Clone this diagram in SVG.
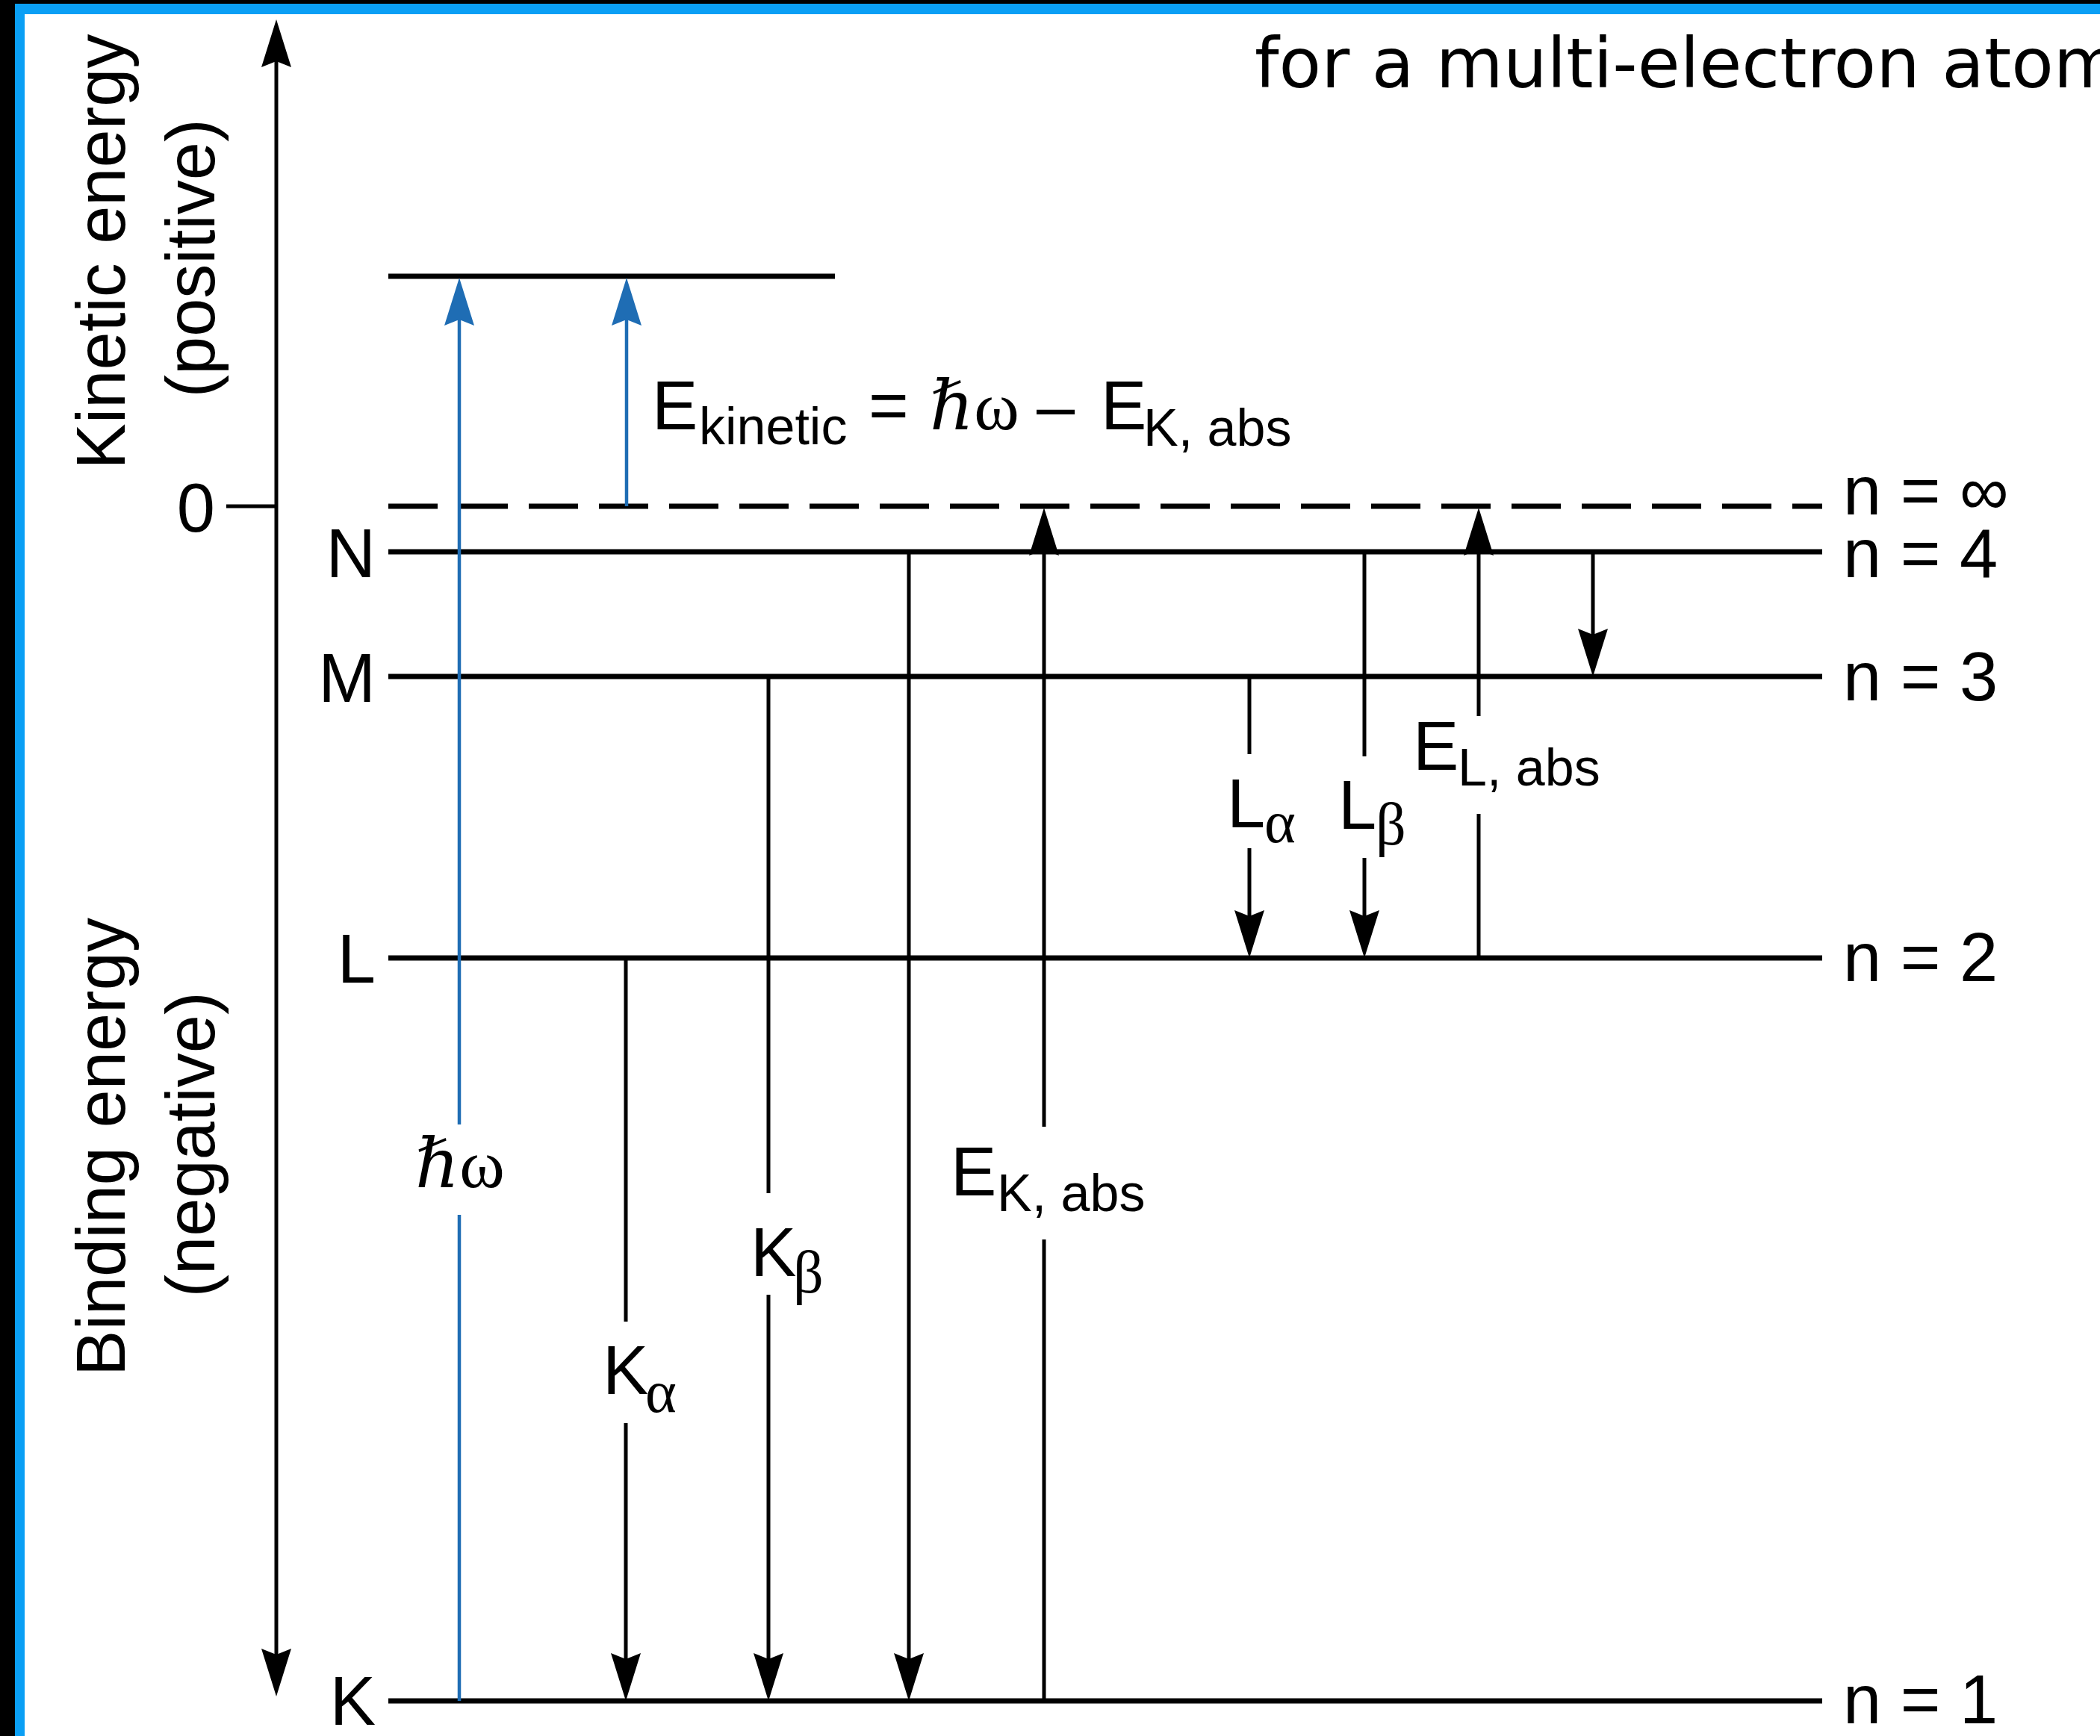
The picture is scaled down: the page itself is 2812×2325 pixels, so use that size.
<svg xmlns="http://www.w3.org/2000/svg" width="2812" height="2325" viewBox="0 0 2812 2325">
<style>
.t{font-family:"Liberation Sans",Arial,sans-serif;font-size:92px;fill:#000}
.sym{font-family:"Liberation Serif","DejaVu Serif",serif;font-size:92px;fill:#000}
.sub{font-size:70px}
.gk{font-family:"Liberation Serif","DejaVu Serif",serif;font-size:80px}
.lvl{stroke:#000;stroke-width:7;fill:none}
.dash{stroke:#000;stroke-width:7;fill:none;stroke-dasharray:66 28}
.v{stroke:#000;stroke-width:5;fill:none}
.vb{stroke:#1f6db4;stroke-width:4.5;fill:none}
.title{font-family:"DejaVu Sans","Liberation Sans",sans-serif;font-size:92px;fill:#000}
</style>
<defs>
<marker id="ah" viewBox="-60 -24 74 48" refX="0" refY="0" markerWidth="74" markerHeight="48" markerUnits="userSpaceOnUse" orient="auto">
<path d="M10,0 L-54,-20 L-46,0 L-54,20 Z" fill="#000"/>
</marker>
<marker id="ahs" viewBox="-60 -24 74 48" refX="0" refY="0" markerWidth="74" markerHeight="48" markerUnits="userSpaceOnUse" orient="auto-start-reverse">
<path d="M10,0 L-54,-20 L-46,0 L-54,20 Z" fill="#000"/>
</marker>
<marker id="ab" viewBox="-60 -24 74 48" refX="0" refY="0" markerWidth="74" markerHeight="48" markerUnits="userSpaceOnUse" orient="auto">
<path d="M10,0 L-54,-20 L-46,0 L-54,20 Z" fill="#1f6db4"/>
</marker>
</defs>
<rect x="0" y="0" width="2812" height="2325" fill="#000"/>
<rect x="20" y="5" width="2792" height="2320" fill="#0a9ff5"/>
<rect x="33" y="19" width="2779" height="2306" fill="#fff"/>

<g id="title"><text class="title" x="1680" y="117" textLength="1160" lengthAdjust="spacingAndGlyphs">for a multi-electron atom</text></g>

<g id="axis">
<line class="v" x1="370" y1="36" x2="370" y2="2262" marker-start="url(#ahs)" marker-end="url(#ah)"/>
<line class="v" x1="303" y1="678" x2="370" y2="678"/>
<text class="t" x="288" y="712" text-anchor="end">0</text>
<text class="t" transform="translate(167,337) rotate(-90)" text-anchor="middle">Kinetic energy</text>
<text class="t" transform="translate(287,346) rotate(-90)" text-anchor="middle">(positive)</text>
<text class="t" transform="translate(167,1536) rotate(-90)" text-anchor="middle">Binding energy</text>
<text class="t" transform="translate(287,1533) rotate(-90)" text-anchor="middle">(negative)</text>
</g>

<g id="level-free"><line class="lvl" x1="520" y1="370" x2="1118" y2="370"/></g>
<g id="level-inf"><line class="dash" x1="520" y1="678" x2="2440" y2="678"/><text class="t" x="2468" y="689">n = ∞</text></g>
<g id="level-N"><line class="lvl" x1="520" y1="739" x2="2440" y2="739"/><text class="t" x="503" y="773" text-anchor="end">N</text><text class="t" x="2468" y="773">n = 4</text></g>
<g id="level-M"><line class="lvl" x1="520" y1="906" x2="2440" y2="906"/><text class="t" x="503" y="940" text-anchor="end">M</text><text class="t" x="2468" y="938">n = 3</text></g>
<g id="level-L"><line class="lvl" x1="520" y1="1283" x2="2440" y2="1283"/><text class="t" x="503" y="1316" text-anchor="end">L</text><text class="t" x="2468" y="1314">n = 2</text></g>
<g id="level-K"><line class="lvl" x1="520" y1="2278" x2="2440" y2="2278"/><text class="t" x="503" y="2310" text-anchor="end">K</text><text class="t" x="2468" y="2308">n = 1</text></g>

<g id="connectors">
<path class="vb" d="M615,2278 V1627"/>
<path class="vb" d="M615,1506 V382" marker-end="url(#ab)"/>
<path class="vb" d="M839,678 V382" marker-end="url(#ab)"/>
<path class="v" d="M838,1283 V1770"/>
<path class="v" d="M838,1906 V2268" marker-end="url(#ah)"/>
<path class="v" d="M1029,906 V1598"/>
<path class="v" d="M1029,1734 V2268" marker-end="url(#ah)"/>
<path class="v" d="M1217,739 V2268" marker-end="url(#ah)"/>
<path class="v" d="M1398,2278 V1660"/>
<path class="v" d="M1398,1509 V690" marker-end="url(#ah)"/>
<path class="v" d="M1673,906 V1010"/>
<path class="v" d="M1673,1136 V1273" marker-end="url(#ah)"/>
<path class="v" d="M1827,739 V1013"/>
<path class="v" d="M1827,1149 V1273" marker-end="url(#ah)"/>
<path class="v" d="M1980,1283 V1090"/>
<path class="v" d="M1980,959 V690" marker-end="url(#ah)"/>
<path class="v" d="M2133,739 V896" marker-end="url(#ah)"/>
</g>

<g id="label-ekinetic">
<text class="t" x="873" y="575">E<tspan class="sub" x="936" y="595">kinetic</tspan><tspan x="1163" y="575">=</tspan><tspan x="1245" y="575" font-family="Liberation Serif, DejaVu Serif, serif" font-style="italic">ℏ</tspan><tspan font-family="Liberation Serif, DejaVu Serif, serif">ω</tspan><tspan x="1388" y="575">–</tspan><tspan x="1474" y="575">E</tspan><tspan class="sub" x="1531" y="597">K, abs</tspan></text>
</g>
<g id="label-hw"><text class="sym" x="556" y="1590"><tspan font-style="italic">ℏ</tspan>ω</text></g>
<g id="label-Ka"><text class="t" x="807" y="1867">K<tspan class="gk" x="864" y="1891">α</tspan></text></g>
<g id="label-Kb"><text class="t" x="1005" y="1709">K<tspan class="gk" x="1062" y="1731">β</tspan></text></g>
<g id="label-EK"><text class="t" x="1273" y="1601">E<tspan class="sub" x="1335" y="1622">K, abs</tspan></text></g>
<g id="label-La"><text class="t" x="1643" y="1108">L<tspan class="gk" x="1693" y="1128">α</tspan></text></g>
<g id="label-Lb"><text class="t" x="1792" y="1110">L<tspan class="gk" x="1842" y="1131">β</tspan></text></g>
<g id="label-EL"><text class="t" x="1892" y="1031">E<tspan class="sub" x="1952" y="1052">L, abs</tspan></text></g>
</svg>
